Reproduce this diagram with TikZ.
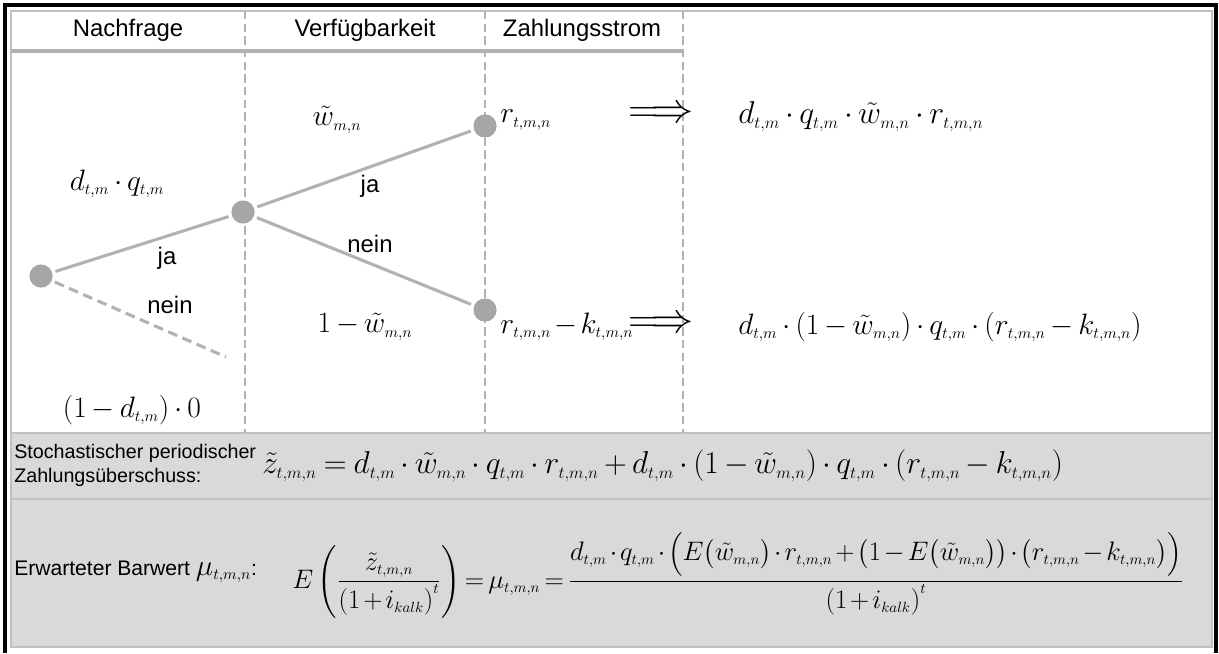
\RequirePackage{fix-cm}
\documentclass[tikz,border=0pt]{standalone}
\usepackage{amsmath}
\usepackage[no-math]{fontspec}
\setmainfont{Liberation Sans}
\usetikzlibrary{positioning}
\DeclareMathSizes{22.5}{22.5}{12}{9}
\DeclareMathSizes{21}{21}{11}{8}
\DeclareMathSizes{19}{19}{10.5}{8}
\definecolor{knotgray}{RGB}{166,166,166}
\definecolor{linegray}{RGB}{178,178,178}
\definecolor{bandgray}{RGB}{217,217,217}
\definecolor{framegray}{RGB}{192,192,192}
\medmuskip=3mu
\thickmuskip=4mu

\begin{document}
\begin{tikzpicture}[
    x=0.025cm, y=-0.025cm,
    lbl/.style={font=\fontsize{17}{19}\selectfont, inner sep=0pt},
    bandlbl/.style={font=\fontsize{14}{17}\selectfont, inner sep=0pt, anchor=west, align=left},
    mth/.style={font=\fontsize{21}{25}\selectfont, inner sep=0pt},
    knot/.style={circle, fill=knotgray, inner sep=0pt, minimum size=0.58cm, outer sep=2.5pt},
    branch/.style={draw=linegray, line width=2.2pt},
    divider/.style={draw=linegray, line width=1.9pt, dash pattern=on 6pt off 3pt}
]
\useasboundingbox (0,0) rectangle (1219,653);

% ===================== FRAME =====================
\fill[bandgray] (11,433) rectangle (1212,647);
\draw[framegray, line width=1.2pt] (11,11) rectangle (1212,647);
\draw[framegray, line width=1.2pt] (11,433) -- (1212,433);
\draw[framegray, line width=1.2pt] (11,499) -- (1212,499);
\draw[line width=2.2pt] (5,653) -- (5,5) -- (1216,5) -- (1216,653);

% ===================== HEADER =====================
\node[lbl] (hnach) at (128,30) {Nachfrage};
\node[lbl] (hverf) at (365,30) {Verfügbarkeit};
\node[lbl] (hzahl) at (582,30) {Zahlungsstrom};
\draw[linegray, line width=2.2pt] (11,51) -- (683,51);
\foreach \x in {245,485,683}
    \draw[divider] (\x,11) -- (\x,433);

% ===================== TREE =====================
\node[knot] (root) at (41,276) {};
\node[knot] (mid) at (243,212) {};
\node[knot] (upper) at (485,126) {};
\node[knot] (lower) at (485,310) {};
\coordinate (noend) at (226,357);

\draw[branch] (root) -- (mid);
\draw[branch, dash pattern=on 7pt off 4pt] (root) -- (noend);
\draw[branch] (mid) -- (upper);
\draw[branch] (mid) -- (lower);

\node[mth] (dq) at (117,184) {$d_{t,m}\cdot q_{t,m}$};
\node[lbl] (ja1) at (167,258) {ja};
\node[lbl] (nein1) at (170,305) {nein};
\node[mth] (zero) at (132,410) {$\left(1-d_{t,m}\right)\cdot 0$};

\node[mth] (wt) at (337,120) {$\tilde{w}_{m,n}$};
\node[lbl] (ja2) at (370,186) {ja};
\node[lbl] (nein2) at (370,244) {nein};
\node[mth] (wn) at (365,327) {$1-\tilde{w}_{m,n}$};

\node[mth, anchor=west] (rr) at (500,120) {$r_{t,m,n}$};
\node[mth, anchor=west] (rk) at (500,327) {$\medmuskip=2mu r_{t,m,n}-k_{t,m,n}$};

% ===================== RESULTS =====================
\node[mth, font=\fontsize{30}{32}\selectfont] (imp1) at (661,115) {$\Longrightarrow$};
\node[mth, font=\fontsize{30}{32}\selectfont] (imp2) at (661,325) {$\Longrightarrow$};
\node[mth, font=\fontsize{22.5}{26}\selectfont, anchor=west] (res1) at (738,117)
    {$d_{t,m}\cdot q_{t,m}\cdot\tilde{w}_{m,n}\cdot r_{t,m,n}$};
\node[mth, anchor=west] (res2) at (738,327)
    {$d_{t,m}\cdot\left(1-\tilde{w}_{m,n}\right)\cdot q_{t,m}\cdot\left(r_{t,m,n}-k_{t,m,n}\right)$};

% ===================== BANDS =====================
\node[bandlbl] (stoch) at (14,465)
    {Stochastischer periodischer\\Zahlungsüberschuss:};
\node[mth, font=\fontsize{22.5}{26}\selectfont, anchor=west] (zform) at (262,466)
    {$\tilde{z}_{t,m,n}=d_{t,m}\cdot\tilde{w}_{m,n}\cdot q_{t,m}\cdot r_{t,m,n}+d_{t,m}\cdot\left(1-\tilde{w}_{m,n}\right)\cdot q_{t,m}\cdot\left(r_{t,m,n}-k_{t,m,n}\right)$};

\node[bandlbl, font=\fontsize{15}{17}\selectfont] (erw) at (14,572)
    {Erwarteter Barwert {\fontsize{21}{25}\selectfont$\mu_{t,m,n}$}:};
\node[mth, font=\fontsize{19}{23}\selectfont, anchor=west] (bform) at (292,574)
    {$\medmuskip=2mu\thickmuskip=3mu E\left(\dfrac{\tilde{z}_{t,m,n}}{\left(1+i_{kalk}\right)^{t}}\right)=\mu_{t,m,n}=\dfrac{d_{t,m}\cdot q_{t,m}\cdot\Bigl(E\bigl(\tilde{w}_{m,n}\bigr)\cdot r_{t,m,n}+\bigl(1-E\bigl(\tilde{w}_{m,n}\bigr)\bigr)\cdot\bigl(r_{t,m,n}-k_{t,m,n}\bigr)\Bigr)}{\left(1+i_{kalk}\right)^{t}}$};

\end{tikzpicture}
\end{document}
